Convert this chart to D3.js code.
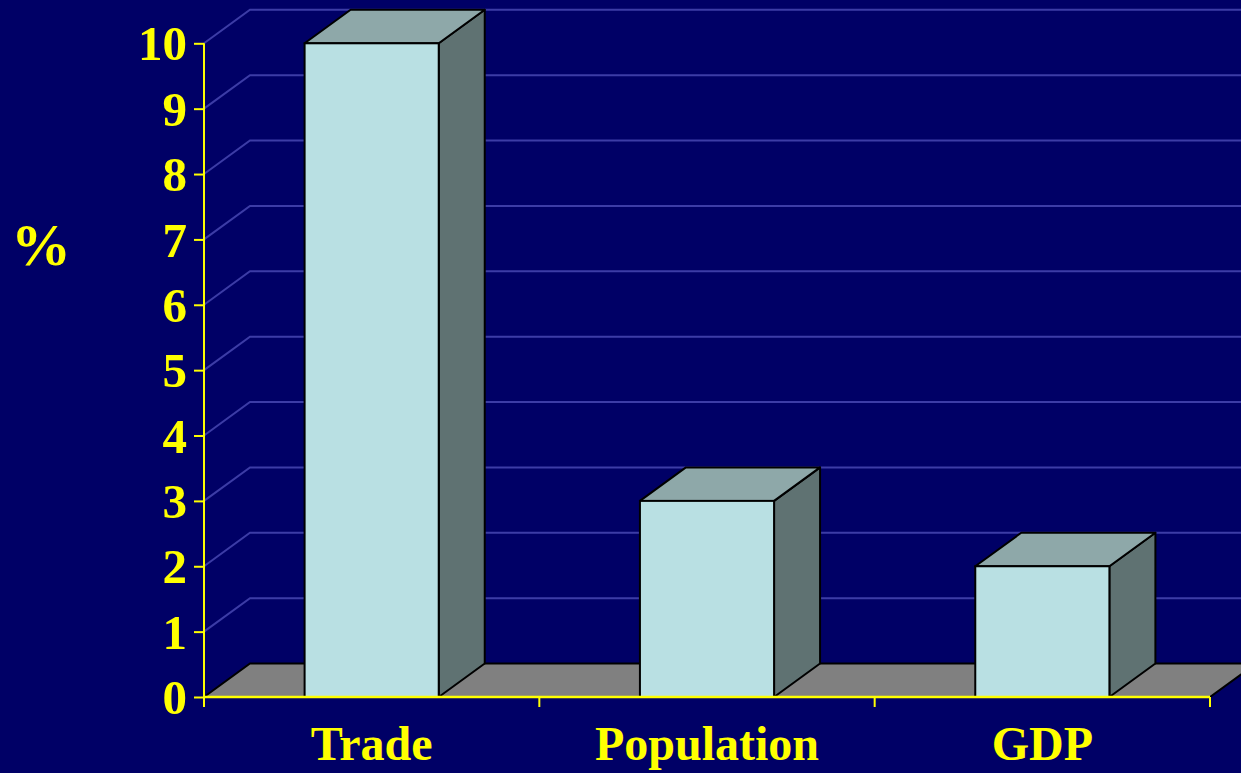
<!DOCTYPE html>
<html>
<head>
<meta charset="utf-8">
<script src="https://cdn.jsdelivr.net/npm/d3@7"></script>
<style>
  html, body { margin: 0; padding: 0; background: #000066; overflow: hidden; }
  svg { display: block; }
  text { font-family: "Liberation Serif", "Times New Roman", serif; font-weight: bold; fill: #ffff00; }
</style>
</head>
<body>
<svg id="chart" width="1241" height="773"></svg>
<script>
const categories = ["Trade", "Population", "GDP"];
const values = [10, 3, 2];
const yTicks = [0, 1, 2, 3, 4, 5, 6, 7, 8, 9, 10];
const yLabel = "%";

const W = 1241, H = 773;
const svg = d3.select("#chart");
svg.append("rect").attr("width", W).attr("height", H).attr("fill", "#000066");

const x0 = 204, x1 = 1210;
const y = d3.scaleLinear().domain([0, 10]).range([697, 43.3]);
const x = d3.scaleBand().domain(categories).range([x0, x1]).paddingInner(0.6).paddingOuter(0.3);
const step = x.step();
const dx = 46, dy = -33.5;

// gridlines (on side wall + back wall)
const grid = svg.append("g");
yTicks.filter(v => v > 0).forEach(v => {
  const yy = y(v);
  grid.append("path")
    .attr("d", `M${x0},${yy} L${x0 + dx},${yy + dy} L${W + 10},${yy + dy}`)
    .attr("fill", "none").attr("stroke", "#3c3ca6").attr("stroke-width", 2);
});

// floor
const fy = y(0);
svg.append("path")
  .attr("d", `M${x0},${fy} L${x1},${fy} L${x1 + dx},${fy + dy} L${x0 + dx},${fy + dy} Z`)
  .attr("fill", "#808080").attr("stroke", "#000").attr("stroke-width", 2);

// bars
const bars = svg.append("g").selectAll("g").data(categories.map((c, i) => ({c, v: values[i]}))).join("g");
bars.each(function(d) {
  const g = d3.select(this);
  const bl = x(d.c), br = x(d.c) + x.bandwidth();
  const top = y(d.v), bot = y(0);
  g.append("path")
    .attr("d", `M${br},${top} L${br + dx},${top + dy} L${br + dx},${bot + dy} L${br},${bot} Z`)
    .attr("fill", "#5f7272").attr("stroke", "#000").attr("stroke-width", 2).attr("stroke-linejoin", "round");
  g.append("path")
    .attr("d", `M${bl},${top} L${bl + dx},${top + dy} L${br + dx},${top + dy} L${br},${top} Z`)
    .attr("fill", "#8ea8a9").attr("stroke", "#000").attr("stroke-width", 2).attr("stroke-linejoin", "round");
  g.append("rect")
    .attr("x", bl).attr("y", top).attr("width", br - bl).attr("height", bot - top)
    .attr("fill", "#b9e0e3").attr("stroke", "#000").attr("stroke-width", 2);
});

// y axis
const yAxis = svg.append("g").attr("transform", `translate(${x0},0)`)
  .call(d3.axisLeft(y).tickValues(yTicks).tickSize(10).tickPadding(7).tickFormat(d3.format("d")));
yAxis.select(".domain").remove();
yAxis.selectAll(".tick line").attr("stroke", "#ffff00").attr("stroke-width", 2);
yAxis.selectAll(".tick text").attr("font-size", 49).attr("dy", "0.34em")
  .style("font-family", '"Liberation Serif", "Times New Roman", serif').style("font-weight", "bold").attr("fill", "#ffff00");
svg.append("line").attr("x1", x0).attr("x2", x0).attr("y1", y(10)).attr("y2", y(0) + 10)
  .attr("stroke", "#ffff00").attr("stroke-width", 2);

// x axis
svg.append("line").attr("x1", x0).attr("x2", x1).attr("y1", y(0)).attr("y2", y(0))
  .attr("stroke", "#ffff00").attr("stroke-width", 2.5);
d3.range(1, categories.length + 1).forEach(i => {
  const xx = x0 + i * step;
  svg.append("line").attr("x1", xx).attr("x2", xx).attr("y1", y(0)).attr("y2", y(0) + 10)
    .attr("stroke", "#ffff00").attr("stroke-width", 2);
});
svg.append("g").selectAll("text").data(categories).join("text")
  .attr("x", d => x(d) + x.bandwidth() / 2)
  .attr("y", 760)
  .attr("text-anchor", "middle")
  .attr("font-size", 48)
  .text(d => d);

// y label
svg.append("text").attr("x", 41).attr("y", 265).attr("text-anchor", "middle")
  .attr("font-size", 60).text(yLabel);
</script>
</body>
</html>
